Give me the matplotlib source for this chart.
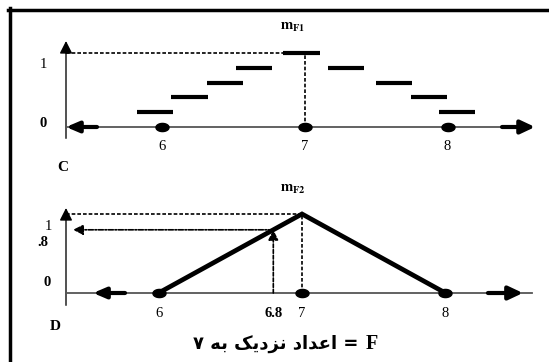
import numpy as np
import matplotlib
matplotlib.use("Agg")
import matplotlib.pyplot as plt
from matplotlib.path import Path
from matplotlib.lines import Line2D

plt.rcParams["mathtext.fontset"] = "stix"

# --- data ---
# panel C: discrete fuzzy set (step bars)
c_centers = [5.95, 6.19, 6.44, 6.64, 6.975, 7.29, 7.625, 7.87, 8.065]
c_heights = [0.2, 0.4, 0.6, 0.8, 1.0, 0.8, 0.6, 0.4, 0.2]
# panel D: triangular fuzzy number
d_x = [6, 7, 8]
d_y = [0, 1, 0]
x_ticks = [6, 7, 8]
cut_x = 6.8
cut_y = 0.8

W, H = 549, 362
fig = plt.figure(figsize=(W / 100, H / 100), dpi=100)
fig.patch.set_facecolor("white")


def box(l, t, r, b):
    return [l / W, 1 - b / H, (r - l) / W, (b - t) / H]


def px(x, y):
    return x / W, 1 - y / H


def arrow(ax, start, end, lw, hl, hw, ls="-", color="black"):
    ax.annotate("", xy=end, xytext=start,
                arrowprops=dict(arrowstyle="-|>,head_length=%s,head_width=%s" % (hl, hw),
                                lw=lw, color=color, shrinkA=0, shrinkB=0,
                                linestyle=ls, mutation_scale=10),
                annotation_clip=False)


t = np.linspace(0, 2 * np.pi, 41)
dot = Path(np.column_stack([1.6 * np.cos(t), np.sin(t)]))

serif = "Liberation Serif"

# frame of the scanned figure
fig.add_artist(Line2D([8 / W, 1], [1 - 9.5 / H] * 2, color="black", lw=2.5))
fig.add_artist(Line2D([9.5 / W] * 2, [0, 1 - 8 / H], color="black", lw=2.5))

# ---------------- panel C ----------------
ax1 = fig.add_axes(box(66, 41, 540, 138))
x0, x1 = 5.323, 8.649
ax1.set_xlim(x0, x1)
ax1.set_ylim(-11 / 74, 86 / 74)
ax1.axis("off")

ax1.plot([x0, x0], [-11 / 74, 1.05], color="#222222", lw=1.1, clip_on=False)
arrow(ax1, (x0, 1.0), (x0, 86 / 74), 1.0, 0.75, 0.38)
ax1.plot([x0, 8.55], [0, 0], color="#555555", lw=1.3, clip_on=False)
arrow(ax1, (x0 + 31 / 142.5, 0), (x0, 0), 3.0, 0.75, 0.32)
arrow(ax1, (7 + (502 - 305) / 142.5, 0), (7 + (535 - 305) / 142.5, 0), 3.0, 0.85, 0.4)

ax1.plot([x0, 7], [1, 1], color="black", lw=1.2, ls=(0, (2.2, 1.2)))
ax1.plot([7, 7], [0, 1], color="black", lw=1.2, ls=(0, (2.2, 1.2)))
ax1.hlines(c_heights, np.array(c_centers) - 0.127, np.array(c_centers) + 0.127,
           color="black", lw=3.0)
ax1.plot(x_ticks, [0] * 3, ls="none", marker=dot, ms=9.4, color="black")

for v in x_ticks:
    ax1.annotate(str(v), xy=(v, 0), xytext=(0, -14), textcoords="offset points",
                 ha="center", va="center", fontsize=10.5, family=serif)
fig.text(*px(293, 27), r"$\mathbf{m_{F1}}$", ha="center", va="center", fontsize=10.5)

fig.text(*px(43, 65), "1", ha="center", va="center", fontsize=10.5, family=serif)
fig.text(*px(43, 123), "0", ha="center", va="center", fontsize=10.5, family=serif, weight="bold")
fig.text(*px(63, 168), "C", ha="center", va="center", fontsize=11, family=serif, weight="bold")

# ---------------- panel D ----------------
ax2 = fig.add_axes(box(66, 208, 540, 305))
u0, u1 = 5.355, 8.659
ax2.set_xlim(u0, u1)
ax2.set_ylim(-12 / 79, 85 / 79)
ax2.axis("off")

ax2.plot([u0, u0], [-12 / 79, 1.0], color="#222222", lw=1.1, clip_on=False)
arrow(ax2, (u0, 0.95), (u0, 85 / 79), 1.0, 0.75, 0.38)
ax2.plot([u0, 8.6], [0, 0], color="#555555", lw=1.3, clip_on=False)
arrow(ax2, (7 + (125 - 302) / 143.5, 0), (7 + (93 - 302) / 143.5, 0), 3.0, 0.75, 0.32)
arrow(ax2, (7 + (488 - 302) / 143.5, 0), (7 + (523 - 302) / 143.5, 0), 3.0, 0.85, 0.4)

ax2.plot([u0, 7], [1, 1], color="black", lw=1.2, ls=(0, (2.2, 1.2)))
ax2.plot([7, 7], [0, 1], color="black", lw=1.2, ls=(0, (2.2, 1.2)))
arrow(ax2, (cut_x, 0), (cut_x, cut_y), 1.2, 0.6, 0.3, ls=(0, (2.2, 1.2)))
arrow(ax2, (cut_x, cut_y), (u0 + 7 / 143.5, cut_y), 1.2, 0.6, 0.3, ls=(0, (3, 1, 1, 1)))
ax2.plot(d_x, d_y, color="black", lw=3.4, solid_joinstyle="miter")
ax2.plot(x_ticks, [0] * 3, ls="none", marker=dot, ms=9.4, color="black")

for v in x_ticks:
    ax2.annotate(str(v), xy=(v, 0), xytext=(0, -14.5), textcoords="offset points",
                 ha="center", va="center", fontsize=10.5, family=serif)
ax2.annotate("6.8", xy=(cut_x, 0), xytext=(0, -14.5), textcoords="offset points",
             ha="center", va="center", fontsize=10.5, family=serif, weight="bold")
fig.text(*px(293, 188), r"$\mathbf{m_{F2}}$", ha="center", va="center", fontsize=10.5)

fig.text(*px(48, 227), "1", ha="center", va="center", fontsize=10.5, family=serif)
fig.text(*px(43, 243), ".8", ha="center", va="center", fontsize=10.5, family=serif, weight="bold")
fig.text(*px(47, 283), "0", ha="center", va="center", fontsize=10.5, family=serif, weight="bold")
fig.text(*px(55, 327), "D", ha="center", va="center", fontsize=11, family=serif, weight="bold")

# caption (Persian, shaped by hand into presentation forms, visual order)
seven = "\u06F7"
beh = "\uFEEA\uFE91"
nazdik = "\uFB8F\uFBFE\uFEA9\uFEB0\uFEE7"
adad = "\uFEA9\uFE8D\uFEAA\uFECB\uFE8D"
caption = seven + " " + beh + " " + nazdik + " " + adad + " = "
fig.text(*px(365, 344), caption, ha="right", va="center", fontsize=13,
         family=["DejaVu Sans"], weight="bold")
fig.text(*px(366, 344), "F", ha="left", va="center", fontsize=14.5, family=serif,
         weight="bold")

fig.savefig("out.png", dpi=100)
